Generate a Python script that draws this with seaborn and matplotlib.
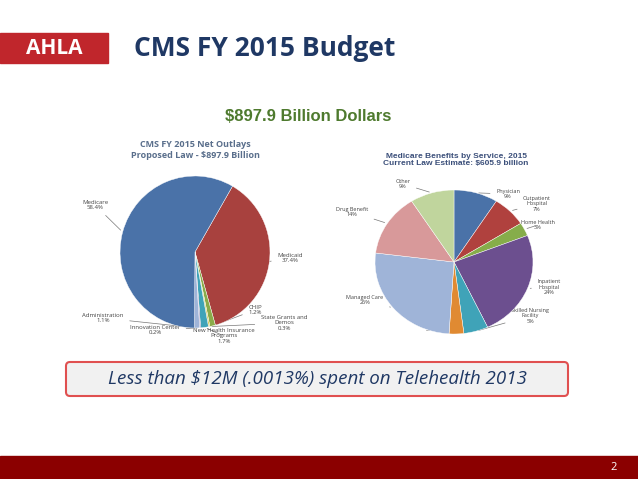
import matplotlib
matplotlib.use("Agg")
import numpy as np
import matplotlib.pyplot as plt
import seaborn as sns
from matplotlib.patches import Rectangle, FancyBboxPatch

sns.set_theme(style="white")
plt.rcParams['font.family'] = ['Open Sans', 'DejaVu Sans']

# left pie data (clockwise from Medicaid)
left_labels = ["Medicaid\n37.4%", "CHIP\n1.2%", "State Grants and\nDemos\n0.3%",
               "New Health Insurance\nPrograms\n1.7%", "Innovation Center\n0.2%",
               "Administration\n1.1%", "Medicare\n58.4%"]
left_values = [37.4, 1.2, 0.3, 1.7, 0.2, 1.1, 58.4]
left_colors = ["#a8413e", "#8aab4a", "#d9c84a", "#3fa3b8", "#6c4f8f", "#9fb4d8", "#4a72a8"]

# right pie data (clockwise from top)
right_labels = ["Physician\n9%", "Outpatient\nHospital\n7%", "Home Health\n3%",
                "Inpatient\nHospital\n24%", "Skilled Nursing\nFacility\n5%", "Hospice\n3%",
                "Managed Care\n26%", "Drug Benefit\n14%", "Other\n9%"]
right_values = [9, 7, 3, 24, 5, 3, 26, 14, 9]
right_colors = ["#4a72a8", "#b0413e", "#86ad4a", "#6c4f8f", "#3fa3b8", "#e08a32",
                "#9fb4d8", "#d8999a", "#c0d59d"]

# label text positions in slide pixels (layout only)
left_text_pos = [(290, 258), (255, 310), (284, 323), (224, 336), (155, 330), (103, 318), (95, 205)]
right_text_pos = [(508, 194), (537, 204), (538, 225), (549, 287), (530, 316), (430, 327),
                  (365, 300), (352, 212), (403, 184)]

W, H = 638, 479
fig = plt.figure(figsize=(6.38, 4.79), dpi=100)
bg = fig.add_axes([0, 0, 1, 1])
bg.set_xlim(0, W); bg.set_ylim(H, 0); bg.axis("off")

# header
bg.add_patch(Rectangle((0, 33), 108, 30, color="#c0262c"))
bg.text(54, 48, "AHLA", color="white", fontsize=15, fontweight="bold", ha="center", va="center")
bg.text(134, 48, "CMS FY 2015 Budget", color="#1f3864", fontsize=19, fontweight="bold", va="center")
bg.text(308, 116, "$897.9 Billion Dollars", color="#4e7a2e", fontsize=12, fontweight="bold",
        ha="center", va="center", family=["Liberation Sans", "DejaVu Sans"])

# callout box
bg.add_patch(FancyBboxPatch((66, 362), 502, 34, boxstyle="round,pad=0,rounding_size=4",
                            facecolor="#f1f1f1", edgecolor="#e05050", lw=1.5))
bg.text(317, 379, "Less than $12M (.0013%) spent on Telehealth 2013", color="#1f3864",
        fontsize=13.5, style="italic", ha="center", va="center")

# footer
bg.add_patch(Rectangle((0, 456), W, 23, color="#8b0000"))
bg.text(614, 467, "2", color="white", fontsize=8, ha="center", va="center")


def draw_pie(cx, cy, rx, ry, values, colors, labels, text_pos, start, fs):
    ax = fig.add_axes([(cx - rx) / W, (H - cy - ry) / H, 2 * rx / W, 2 * ry / H])
    wedges, _ = ax.pie(values, colors=colors, startangle=start, counterclock=False,
                       wedgeprops=dict(linewidth=0.3, edgecolor="white"))
    ax.set_xlim(-1, 1); ax.set_ylim(-1, 1); ax.set_aspect("auto"); ax.axis("off")
    for w, lab, (tx, ty) in zip(wedges, labels, text_pos):
        ang = np.deg2rad((w.theta1 + w.theta2) / 2)
        px = cx + rx * np.cos(ang)
        py = cy - ry * np.sin(ang)
        bg.annotate(lab, xy=(px, py), xytext=(tx, ty), fontsize=fs, color="#444444",
                    ha="center", va="center", linespacing=1.1,
                    arrowprops=dict(arrowstyle="-", color="#777777", lw=0.5))
    return ax


draw_pie(195, 252, 75, 76, left_values, left_colors, left_labels, left_text_pos, 60, 4.3)
bg.text(195, 150, "CMS FY 2015 Net Outlays\nProposed Law - $897.9 Billion", fontsize=6.5,
        color="#5a6f8c", fontweight="bold", ha="center", va="center")

draw_pie(454, 262, 79, 72, right_values, right_colors, right_labels, right_text_pos, 90, 4.0)
bg.text(456, 160, "Medicare Benefits by Service, 2015\nCurrent Law Estimate: $605.9 billion",
        fontsize=6, color="#3b4f7a", fontweight="bold", ha="center", va="center",
        family=["Liberation Sans", "DejaVu Sans"])

fig.savefig("out.png", dpi=100)
